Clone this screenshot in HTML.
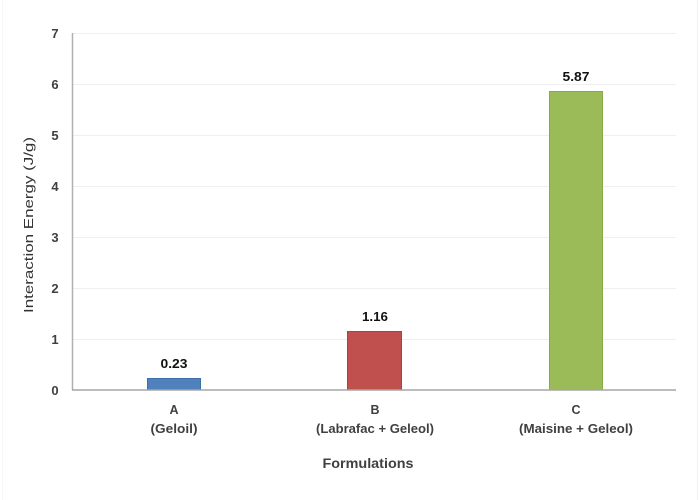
<!DOCTYPE html>
<html>
<head>
<meta charset="utf-8">
<style>
html,body{margin:0;padding:0;background:#fff;}
svg{display:block;}
text{font-family:"Liberation Sans",sans-serif;}
.b{font-weight:bold;}
.n{font-weight:normal;}
</style>
</head>
<body>
<svg width="700" height="500" viewBox="0 0 700 500" xmlns="http://www.w3.org/2000/svg">
<rect x="0" y="0" width="700" height="500" fill="#ffffff"/>
<line x1="697.5" y1="0" x2="697.5" y2="500" stroke="#f2f2f2" stroke-width="1"/>
<line x1="2.5" y1="0" x2="2.5" y2="500" stroke="#f6f6f6" stroke-width="1"/>
<!-- gridlines -->
<g stroke="#efefef" stroke-width="1">
<line x1="73" y1="33.5" x2="676" y2="33.5"/>
<line x1="73" y1="84.5" x2="676" y2="84.5"/>
<line x1="73" y1="135.5" x2="676" y2="135.5"/>
<line x1="73" y1="186.5" x2="676" y2="186.5"/>
<line x1="73" y1="237.5" x2="676" y2="237.5"/>
<line x1="73" y1="288.5" x2="676" y2="288.5"/>
<line x1="73" y1="339.5" x2="676" y2="339.5"/>
</g>
<!-- bars -->
<rect x="147.5" y="378.5" width="53" height="11.5" fill="#4f81bd" stroke="#3f6faa" stroke-width="1"/>
<rect x="347.5" y="331.5" width="54" height="58.5" fill="#c0504d" stroke="#a84340" stroke-width="1"/>
<rect x="549.5" y="91.5" width="53" height="298.5" fill="#9bbb59" stroke="#86a94a" stroke-width="1"/>
<!-- axes -->
<line x1="72.5" y1="33" x2="72.5" y2="390" stroke="#b0b0b0" stroke-width="1.5"/>
<line x1="72" y1="390" x2="676" y2="390" stroke="#a6a6a6" stroke-width="1.5"/>
<!-- y tick labels -->
<g class="b" fill="#404040" font-size="13" text-anchor="middle">
<text x="55" y="38">7</text>
<text x="55" y="89">6</text>
<text x="55" y="140">5</text>
<text x="55" y="191">4</text>
<text x="55" y="242">3</text>
<text x="55" y="293">2</text>
<text x="55" y="344">1</text>
<text x="55" y="395">0</text>
</g>
<!-- y title -->
<text class="n" transform="translate(33,225) rotate(-90)" text-anchor="middle" fill="#333" font-size="13" textLength="176" lengthAdjust="spacingAndGlyphs">Interaction Energy (J/g)</text>
<!-- value labels -->
<g class="b" fill="#111" font-size="12.5" text-anchor="middle">
<text x="174" y="368" textLength="27" lengthAdjust="spacingAndGlyphs">0.23</text>
<text x="375" y="321" textLength="26" lengthAdjust="spacingAndGlyphs">1.16</text>
<text x="576" y="81" textLength="27" lengthAdjust="spacingAndGlyphs">5.87</text>
</g>
<!-- category labels -->
<g class="b" fill="#404040" font-size="12.5" text-anchor="middle">
<text x="174" y="414">A</text>
<text x="174" y="433" textLength="47" lengthAdjust="spacingAndGlyphs">(Geloil)</text>
<text x="375" y="414">B</text>
<text x="375" y="433" textLength="118" lengthAdjust="spacingAndGlyphs">(Labrafac + Geleol)</text>
<text x="576" y="414">C</text>
<text x="576" y="433" textLength="114" lengthAdjust="spacingAndGlyphs">(Maisine + Geleol)</text>
</g>
<text class="b" x="368" y="468" text-anchor="middle" fill="#404040" font-size="14" textLength="91" lengthAdjust="spacingAndGlyphs">Formulations</text>
</svg>
</body>
</html>
